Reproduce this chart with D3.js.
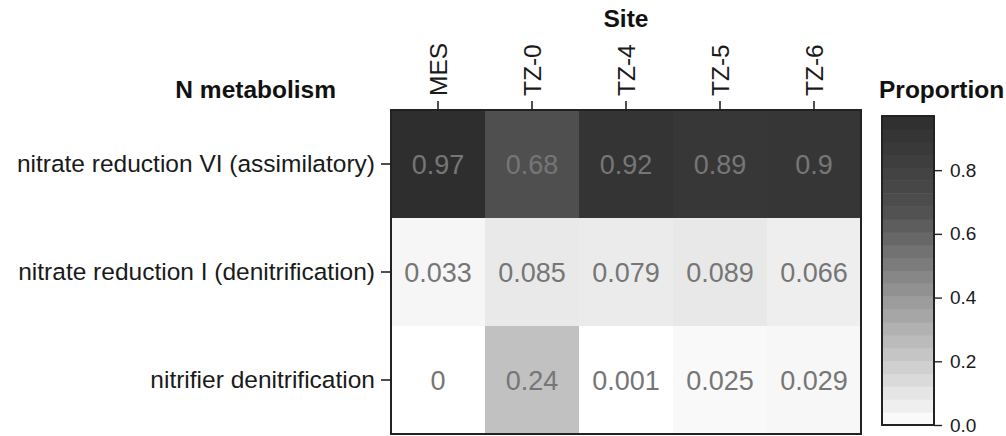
<!DOCTYPE html>
<html>
<head>
<meta charset="utf-8">
<script src="https://cdn.jsdelivr.net/npm/d3@7"></script>
<style>
  html, body { margin: 0; padding: 0; background: #fff; }
  svg { display: block; font-family: "Liberation Sans", Arial, sans-serif; }
</style>
</head>
<body>
<svg id="chart" width="1006" height="436"></svg>
<script>
// Sites (columns) and N-metabolism pathways (rows)
const sites = ["MES", "TZ-0", "TZ-4", "TZ-5", "TZ-6"];
const pathways = [
  "nitrate reduction VI (assimilatory)",
  "nitrate reduction I (denitrification)",
  "nitrifier denitrification"
];

// Proportion of each pathway per site
const assimilatory    = [0.97, 0.68, 0.92, 0.89, 0.9];
const denitrification = [0.033, 0.085, 0.079, 0.089, 0.066];
const nitrifierDenit  = [0, 0.24, 0.001, 0.025, 0.029];

// Colour bar ticks
const legendTicks = [0, 0.2, 0.4, 0.6, 0.8];

const rows = [assimilatory, denitrification, nitrifierDenit];
const cells = [];
pathways.forEach((p, i) => {
  sites.forEach((s, j) => cells.push({ pathway: p, site: s, value: rows[i][j] }));
});

const maxVal = d3.max(cells, d => d.value);

const svg = d3.select("#chart");

const x = d3.scaleBand().domain(sites).range([391, 861]);
const y = d3.scaleBand().domain(pathways).range([110, 434]);

// Grey ramp: white for zero, darkening to near-black at the maximum
const color = d3.scaleLinear()
  .domain([0, 0.68, maxVal])
  .range(["#ffffff", "#4f4f4f", "#2e2e2e"])
  .clamp(true);

// Heatmap cells
svg.append("g")
  .selectAll("rect")
  .data(cells)
  .join("rect")
  .attr("x", d => x(d.site))
  .attr("y", d => y(d.pathway))
  .attr("width", x.bandwidth())
  .attr("height", y.bandwidth())
  .attr("fill", d => color(d.value));

// Value labels
svg.append("g")
  .selectAll("text")
  .data(cells)
  .join("text")
  .attr("x", d => x(d.site) + x.bandwidth() / 2)
  .attr("y", d => y(d.pathway) + y.bandwidth() / 2)
  .attr("dy", "0.36em")
  .attr("text-anchor", "middle")
  .attr("font-size", 27)
  .attr("fill", "#767676")
  .text(d => String(d.value));

// Panel border
svg.append("rect")
  .attr("x", 391).attr("y", 110)
  .attr("width", 470).attr("height", 324)
  .attr("fill", "none")
  .attr("stroke", "#222")
  .attr("stroke-width", 2);

// Row axis
const yAxis = svg.append("g")
  .attr("transform", "translate(391,0)")
  .call(d3.axisLeft(y).tickSize(10).tickPadding(6));
yAxis.select(".domain").remove();
yAxis.selectAll("line").attr("stroke", "#222").attr("stroke-width", 1.6);
yAxis.selectAll("text")
  .attr("font-size", 24.5)
  .attr("fill", "#1a1a1a")
  .attr("font-family", null);

// Column axis with rotated labels
const xAxis = svg.append("g")
  .attr("transform", "translate(0,110)")
  .call(d3.axisTop(x).tickSize(9).tickPadding(4));
xAxis.select(".domain").remove();
xAxis.selectAll("line").attr("stroke", "#222").attr("stroke-width", 1.6);
xAxis.selectAll("text")
  .attr("font-size", 24.5)
  .attr("fill", "#1a1a1a")
  .attr("font-family", null)
  .attr("transform", "rotate(-90)")
  .attr("x", 14)
  .attr("y", 0)
  .attr("dy", "0.36em")
  .attr("text-anchor", "start");

// Axis titles
svg.append("text")
  .attr("x", 626).attr("y", 27)
  .attr("text-anchor", "middle")
  .attr("font-size", 24.5).attr("font-weight", "bold")
  .attr("fill", "#111")
  .text("Site");

svg.append("text")
  .attr("x", 336).attr("y", 98)
  .attr("text-anchor", "end")
  .attr("font-size", 24.5).attr("font-weight", "bold")
  .attr("fill", "#111")
  .text("N metabolism");

// Colour bar legend
const lx = 882, lw = 52, lTop = 116, lBottom = 425;
const ly = d3.scaleLinear().domain([0, maxVal]).range([lBottom, lTop]);
const nBands = 24;
const bands = d3.range(nBands).map(i => ({
  lo: maxVal * i / nBands,
  hi: maxVal * (i + 1) / nBands
}));

svg.append("text")
  .attr("x", 879).attr("y", 98)
  .attr("font-size", 24.5).attr("font-weight", "bold")
  .attr("fill", "#111")
  .text("Proportion");

svg.append("g")
  .selectAll("rect")
  .data(bands)
  .join("rect")
  .attr("x", lx)
  .attr("y", d => ly(d.hi))
  .attr("width", lw)
  .attr("height", d => ly(d.lo) - ly(d.hi) + 0.5)
  .attr("fill", d => color((d.lo + d.hi) / 2));

svg.append("rect")
  .attr("x", lx).attr("y", lTop)
  .attr("width", lw).attr("height", lBottom - lTop)
  .attr("fill", "none")
  .attr("stroke", "#222")
  .attr("stroke-width", 2);

const legendAxis = svg.append("g")
  .attr("transform", `translate(${lx + lw},0)`)
  .call(d3.axisRight(ly).tickValues(legendTicks).tickFormat(d3.format(".1f")).tickSize(8).tickPadding(8));
legendAxis.select(".domain").remove();
legendAxis.selectAll("line").attr("stroke", "#222").attr("stroke-width", 1.4);
legendAxis.selectAll("text")
  .attr("font-size", 19)
  .attr("fill", "#1a1a1a")
  .attr("font-family", null);
</script>
</body>
</html>
